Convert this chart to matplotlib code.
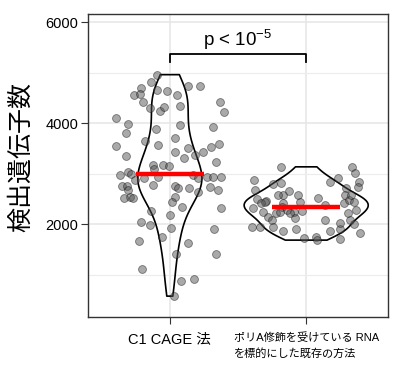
import matplotlib
matplotlib.use('Agg')
import matplotlib.pyplot as plt
import numpy as np

plt.rcParams['font.family'] = ['Liberation Sans', 'Noto Sans CJK JP']
plt.rcParams['mathtext.fontset'] = 'custom'
plt.rcParams['mathtext.rm'] = 'Liberation Sans'
plt.rcParams['mathtext.it'] = 'Liberation Sans:italic'

# categories and tick labels
categories = ['C1 CAGE 法', 'ポリA修飾を受けている RNA\nを標的にした既存の方法']
y_label = '検出遺伝子数'
y_ticks = [2000, 4000, 6000]
y_minor = [1000, 3000, 5000]
p_label = r'p < 10$^{-5}$'

# C1 CAGE points (jittered x, detected genes)
c1_x = [0.904, 0.865, 0.792, 0.738, 0.782, 0.904, 0.980, 1.054, 1.135, 1.218,
        0.804, 0.858, 0.926, 0.956, 1.076, 1.368, 1.399, 0.608, 0.693, 0.676,
        0.902, 1.076, 1.318, 0.821, 1.037, 0.608, 0.682, 0.914, 1.037, 1.130,
        1.105, 1.184, 1.240, 1.299, 1.363, 1.336, 0.632, 0.693, 0.713, 0.877,
        0.885, 0.951, 0.993, 0.914, 0.811, 0.877, 0.649, 0.686, 0.693, 0.711,
        0.664, 0.730, 1.037, 1.057, 1.171, 1.208, 1.270, 1.318, 1.375, 1.294,
        1.355, 1.142, 1.208, 1.037, 1.017, 1.090, 0.865, 1.375, 0.998, 0.785,
        0.858, 1.010, 1.326, 0.772, 0.946, 1.135, 1.044, 1.338, 0.796, 1.079,
        1.174, 1.029, 0.743]
c1_y = [4960, 4822, 4693, 4561, 4574, 4654, 4628, 4561, 4727, 4739,
        4410, 4297, 4238, 4323, 4343, 4410, 4212, 4093, 3990, 3802,
        3881, 3955, 3921, 3654, 3703, 3545, 3353, 3565, 3432, 3511,
        3313, 3367, 3420, 3519, 3578, 3234, 2971, 3036, 2984, 3169,
        3083, 3169, 3155, 2937, 2905, 2773, 2759, 2753, 2674, 2541,
        2521, 2521, 2759, 2719, 2971, 2905, 2937, 2937, 2925, 2739,
        2674, 2719, 2640, 2541, 2442, 2343, 2258, 2323, 2179, 2034,
        1975, 1927, 1901, 1658, 1749, 1618, 1406, 1406, 1103, 878,
        917, 575, 2872]

# poly-A method points
polya_x = [1.816, 1.618, 1.755, 1.816, 1.625, 1.642, 1.706, 1.667, 1.833, 1.877,
           1.943, 1.833, 1.821, 1.863, 1.914, 1.956, 1.968, 1.919, 1.686, 1.723,
           1.748, 1.779, 1.613, 1.601, 1.662, 1.755, 1.829, 1.924, 1.985, 2.074,
           2.079, 2.083, 2.140, 2.135, 2.176, 2.230, 2.176, 2.250, 2.245, 2.250,
           2.292, 2.287, 2.274, 2.311, 2.304, 2.324, 2.353, 2.336, 2.360, 2.385,
           2.377, 2.329, 2.348, 2.368, 2.397, 1.809, 1.882, 1.796, 1.699]
polya_y = [3123, 2872, 2802, 2806, 2674, 2495, 2462, 2410, 2575, 2660,
           2575, 2410, 2343, 2278, 2244, 2442, 2258, 2113, 2244, 2145,
           2080, 2212, 2311, 1935, 1947, 1947, 1868, 1901, 1717, 1743,
           1684, 2509, 2377, 2080, 2838, 2905, 1868, 1895, 1703, 2026,
           2707, 2575, 2410, 2476, 2224, 2080, 2000, 3135, 3004, 2838,
           2727, 2575, 2442, 2278, 1816, 2244, 2212, 2575, 2442]

medians = [2990, 2340]
bracket_y = [5208, 5366]


def nrd0(kde):
    # R's default bandwidth, as ggplot uses
    d = kde.dataset.ravel()
    sd = np.std(d, ddof=1)
    iqr = np.subtract(*np.percentile(d, [75, 25]))
    bw = 0.9 * min(sd, iqr / 1.34) * len(d) ** -0.2
    return bw / sd


fig = plt.figure(figsize=(4, 3.7), dpi=100)
ax = fig.add_axes([0.22, 0.143, 0.75, 0.819])

pos = np.arange(1, len(categories) + 1)

parts = ax.violinplot([c1_y, polya_y], positions=pos, widths=[0.47, 0.91],
                      showextrema=False, bw_method=nrd0)
for b in parts['bodies']:
    b.set_facecolor('none')
    b.set_edgecolor('black')
    b.set_linewidth(1.2)
    b.set_alpha(1)
    b.set_zorder(2)

ax.scatter(c1_x, c1_y, s=32, c='#555555', edgecolors='#111111',
           linewidths=0.6, alpha=0.5, zorder=3)
ax.scatter(polya_x, polya_y, s=32, c='#555555', edgecolors='#111111',
           linewidths=0.6, alpha=0.5, zorder=3)

ax.hlines(medians, pos - 0.25, pos + 0.25, color='red', lw=3.2, zorder=4)

# significance bracket
ax.plot([pos[0], pos[0], pos[1], pos[1]],
        [bracket_y[0], bracket_y[1], bracket_y[1], bracket_y[0]],
        color='black', lw=1.3)
ax.text(pos.mean(), 5525, p_label, ha='center', va='baseline', fontsize=13.5)

ax.set_xlim(0.4, 2.6)
ax.set_ylim(160, 6160)
ax.set_xticks(pos)
ax.set_xticklabels(categories)
for lab, fs in zip(ax.get_xticklabels(), [10.5, 8]):
    lab.set_fontsize(fs)
    lab.set_multialignment('left')
    lab.set_linespacing(1.6)
ax.set_yticks(y_ticks)
ax.set_yticks(y_minor, minor=True)
ax.tick_params(axis='y', labelsize=10.5, length=5, pad=2, color='#333333')
ax.tick_params(axis='x', length=5, pad=6, color='#333333')
ax.tick_params(which='minor', length=0)

ax.grid(which='major', color='#e6e6e6', lw=1.1)
ax.grid(which='minor', axis='y', color='#ececec', lw=0.8)
ax.set_axisbelow(True)
for s in ax.spines.values():
    s.set_color('#333333')
    s.set_linewidth(1)

ax.set_ylabel(y_label, fontsize=18, va='center')
ax.yaxis.set_label_coords(-0.223, 0.528)

plt.savefig('out.png', dpi=100)
